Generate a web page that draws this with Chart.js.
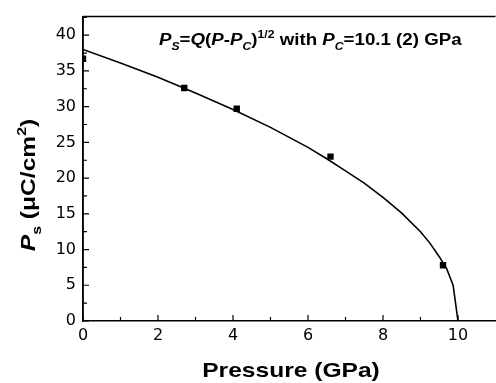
<!DOCTYPE html>
<html>
<head>
<meta charset="utf-8">
<script src="https://cdn.jsdelivr.net/npm/chart.js@4/dist/chart.umd.min.js"></script>
<style>
  html, body { margin: 0; padding: 0; background: #fff; overflow: hidden; }
  #wrap { width: 500px; height: 383px; }
</style>
</head>
<body>
<div id="wrap"><canvas id="chart"></canvas></div>
<script>
// measured points
const pressure = [0, 2.7, 4.1, 6.6, 9.6];
const polarization = [36.7, 32.6, 29.7, 23.0, 7.8];

// fitted curve
const fitPressure = [0, 1, 2, 3, 4, 5, 6, 6.5, 7, 7.5, 8, 8.5, 9, 9.25, 9.5, 9.7, 9.87, 10.0];
const fitPolarization = [38.0, 36.1, 34.1, 31.9, 29.6, 27.1, 24.3, 22.7, 21.0, 19.3, 17.3, 15.1, 12.5, 10.9, 9.0, 7.3, 5.0, 0];

const xTicks = [0, 2, 4, 6, 8, 10];
const xMinorTicks = [1, 3, 5, 7, 9];
const yTicks = [0, 5, 10, 15, 20, 25, 30, 35, 40];
const yMinorTicks = [2.5, 7.5, 12.5, 17.5, 22.5, 27.5, 32.5, 37.5, 42.5];

const stretch = 1.17;

function runFont(r, size) {
  const s = (r.sub || r.sup) ? size * 0.65 : size;
  return (r.italic ? 'italic ' : '') + 'bold ' + s + 'px "Liberation Sans", Arial, sans-serif';
}

function drawRuns(ctx, runs, x, y, size, align) {
  let w = 0;
  runs.forEach(r => { ctx.font = runFont(r, size); w += ctx.measureText(r.t).width; });
  ctx.save();
  ctx.translate(x, y);
  ctx.scale(stretch, 1);
  ctx.fillStyle = '#000';
  ctx.textBaseline = 'alphabetic';
  ctx.textAlign = 'left';
  let cx = align === 'center' ? -w / 2 : 0;
  runs.forEach(r => {
    ctx.font = runFont(r, size);
    const dy = r.sub ? size * 0.3 : (r.sup ? -size * 0.42 : 0);
    ctx.fillText(r.t, cx, dy);
    cx += ctx.measureText(r.t).width;
  });
  ctx.restore();
}

const decorations = {
  id: 'decorations',
  afterDraw(chart) {
    const ctx = chart.ctx;
    const a = chart.chartArea;
    const xs = chart.scales.x, ys = chart.scales.y;

    ctx.save();
    ctx.strokeStyle = '#000';
    ctx.lineWidth = 1.5;
    // frame: top line and left axis redrawn over the clipped marker
    ctx.beginPath();
    ctx.moveTo(a.left, a.top);
    ctx.lineTo(a.right, a.top);
    ctx.moveTo(a.left, a.top);
    ctx.lineTo(a.left, a.bottom);
    ctx.stroke();
    // inward ticks
    ctx.lineWidth = 1.2;
    ctx.beginPath();
    xTicks.forEach(v => { const p = xs.getPixelForValue(v); ctx.moveTo(p, a.bottom); ctx.lineTo(p, a.bottom - 6); });
    xMinorTicks.forEach(v => { const p = xs.getPixelForValue(v); ctx.moveTo(p, a.bottom); ctx.lineTo(p, a.bottom - 4); });
    yTicks.forEach(v => { const p = ys.getPixelForValue(v); ctx.moveTo(a.left, p); ctx.lineTo(a.left + 6, p); });
    yMinorTicks.forEach(v => { const p = ys.getPixelForValue(v); ctx.moveTo(a.left, p); ctx.lineTo(a.left + 4, p); });
    ctx.stroke();
    ctx.restore();

    // axis titles
    drawRuns(ctx, [{ t: 'Pressure (GPa)' }], (a.left + 499) / 2, 377, 21, 'center');

    ctx.save();
    ctx.translate(35, 185);
    ctx.rotate(-Math.PI / 2);
    drawRuns(ctx, [
      { t: 'P', italic: true },
      { t: 's', sub: true },
      { t: ' (\u03BCC/cm' },
      { t: '2', sup: true },
      { t: ')' }
    ], 0, 0, 21, 'center');
    ctx.restore();

    // fit annotation
    drawRuns(ctx, [
      { t: 'P', italic: true },
      { t: 'S', italic: true, sub: true },
      { t: '=' },
      { t: 'Q', italic: true },
      { t: '(' },
      { t: 'P', italic: true },
      { t: '-' },
      { t: 'P', italic: true },
      { t: 'C', italic: true, sub: true },
      { t: ')' },
      { t: '1/2', sup: true },
      { t: ' with ' },
      { t: 'P', italic: true },
      { t: 'C', italic: true, sub: true },
      { t: '=10.1 (2) GPa' }
    ], 159, 45, 16, 'left');
  }
};

new Chart(document.getElementById('chart'), {
  type: 'scatter',
  data: {
    datasets: [
      {
        label: 'fit',
        data: fitPressure.map((x, i) => ({ x: x, y: fitPolarization[i] })),
        showLine: true,
        borderColor: '#000',
        borderWidth: 1.6,
        pointRadius: 0,
        tension: 0
      },
      {
        label: 'data',
        data: pressure.map((x, i) => ({ x: x, y: polarization[i] })),
        pointStyle: 'rect',
        pointRadius: 4.5,
        pointBackgroundColor: '#000',
        pointBorderWidth: 0,
        clip: { left: 0, top: 0, right: 0, bottom: 0 }
      }
    ]
  },
  options: {
    responsive: true,
    maintainAspectRatio: false,
    animation: false,
    layout: { padding: { top: 14, right: 1, left: 0, bottom: 0 } },
    plugins: { legend: { display: false }, tooltip: { enabled: false } },
    scales: {
      x: {
        type: 'linear',
        min: 0,
        max: 11,
        afterBuildTicks: s => { s.ticks = xTicks.map(v => ({ value: v })); },
        afterFit: s => { s.height = 62; },
        grid: { display: false, drawTicks: false },
        border: { display: true, color: '#000', width: 1.5 },
        ticks: { color: '#000', padding: 5, maxRotation: 0, font: { family: '"DejaVu Sans"', size: 16 } }
      },
      y: {
        type: 'linear',
        min: 0,
        max: 42.6,
        afterBuildTicks: s => { s.ticks = yTicks.map(v => ({ value: v })); },
        afterFit: s => { s.width = 83; },
        grid: { display: false, drawTicks: false },
        border: { display: true, color: '#000', width: 1.5 },
        ticks: { color: '#000', padding: 7, font: { family: '"DejaVu Sans"', size: 16 } }
      }
    }
  },
  plugins: [decorations]
});
</script>
</body>
</html>
